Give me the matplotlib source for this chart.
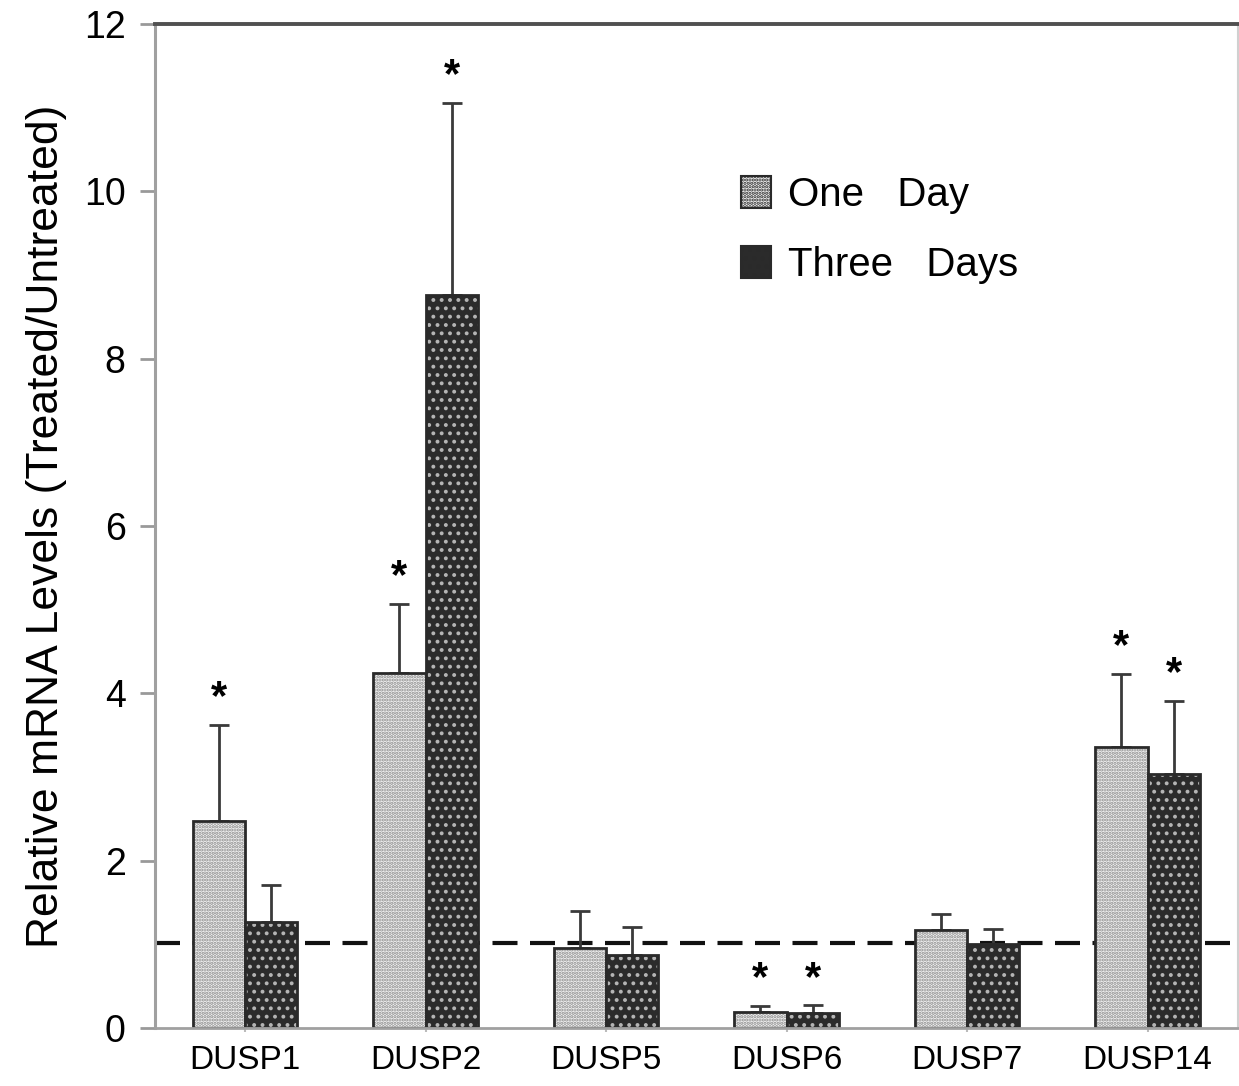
import numpy as np
import matplotlib.pyplot as plt
from matplotlib.patches import Patch

plt.rcParams['font.family'] = ['Liberation Sans', 'DejaVu Sans']
plt.rcParams['hatch.linewidth'] = 1.6

genes = ['DUSP1', 'DUSP2', 'DUSP5', 'DUSP6', 'DUSP7', 'DUSP14']
one_day = [2.47, 4.24, 0.96, 0.19, 1.17, 3.36]
one_day_err = [1.15, 0.83, 0.44, 0.07, 0.19, 0.87]
three_days = [1.27, 8.76, 0.87, 0.18, 1.00, 3.04]
three_days_err = [0.44, 2.30, 0.34, 0.09, 0.18, 0.87]
# significance markers (True = asterisk above error bar)
sig_one = [True, True, False, True, False, True]
sig_three = [False, True, False, True, False, True]
baseline = 1.02

x = np.arange(len(genes))
w = 0.29

fig = plt.figure(figsize=(12.39, 10.86), dpi=100)
ax = fig.add_axes([0.125, 0.0534, 0.874, 0.9245])

def hatched_bars(xpos, vals, errs, face, dots, hatch):
    # hatch colour follows edgecolor, so draw the fill and the outline separately
    ax.bar(xpos, vals, w, color=face, edgecolor=dots, hatch=hatch, linewidth=0, zorder=2)
    ax.bar(xpos, vals, w, fill=False, edgecolor='#2a2a2a', linewidth=2, zorder=2)
    ax.errorbar(xpos, vals, yerr=[np.zeros(len(vals)), errs], fmt='none',
                ecolor='#3a3a3a', elinewidth=2, capsize=7, capthick=2, zorder=1.5)

hatched_bars(x - w / 2, one_day, one_day_err, '#f2f2f2', '#8c8c8c', '.....')
hatched_bars(x + w / 2, three_days, three_days_err, '#2b2b2b', '#b5b5b5', '..')

for i in range(len(genes)):
    if sig_one[i]:
        ax.text(x[i] - w / 2, one_day[i] + one_day_err[i] + 0.08, '*',
                ha='center', va='bottom', fontsize=30, fontweight='bold')
    if sig_three[i]:
        ax.text(x[i] + w / 2, three_days[i] + three_days_err[i] + 0.08, '*',
                ha='center', va='bottom', fontsize=30, fontweight='bold')

ax.axhline(baseline, color='#111111', linewidth=3, linestyle=(0, (6, 3)), zorder=1)

ax.set_xlim(-0.5, 5.5)
ax.set_ylim(0, 12)
ax.set_yticks(range(0, 13, 2))
ax.set_xticks(x)
ax.set_xticklabels(genes, fontsize=24)
ax.tick_params(axis='y', labelsize=27, length=11, width=2, color='#999999', pad=10)
ax.tick_params(axis='x', length=3, width=1.5, color='#bbbbbb', pad=9)
ax.set_ylabel('Relative mRNA Levels (Treated/Untreated)', fontsize=32, labelpad=12)

ax.spines['left'].set_color('#a0a0a0')
ax.spines['left'].set_linewidth(2.2)
ax.spines['bottom'].set_color('#a0a0a0')
ax.spines['bottom'].set_linewidth(2)
ax.spines['top'].set_color('#505050')
ax.spines['top'].set_linewidth(2.8)
ax.spines['right'].set_color('#d0d0d0')
ax.spines['right'].set_linewidth(1.5)

handles = [Patch(facecolor='#f2f2f2', edgecolor='#2a2a2a', hatch='.....', linewidth=1.5),
           Patch(facecolor='#2b2b2b', edgecolor='#2a2a2a', hatch='..', linewidth=1.5)]
ax.legend(handles, ['One   Day', 'Three   Days'], loc='upper left',
          bbox_to_anchor=(0.508, 0.885), frameon=False, fontsize=29,
          handlelength=0.75, handleheight=0.85, handletextpad=0.4,
          labelspacing=0.8)

fig.savefig('out.png', dpi=100)
